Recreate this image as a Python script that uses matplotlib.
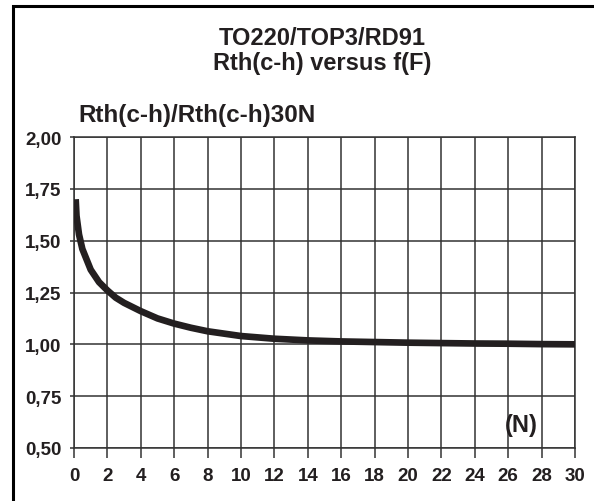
import matplotlib
matplotlib.use("Agg")
import matplotlib.pyplot as plt
from matplotlib.patches import Rectangle

plt.rcParams['font.family'] = ['Liberation Sans', 'DejaVu Sans']
plt.rcParams['font.weight'] = 'bold'

# force (N) vs ratio Rth(c-h)/Rth(c-h)30N
force = [0.1, 0.15, 0.3, 0.5, 1.0, 1.5, 2.0, 2.5, 3.0, 3.5, 4, 5, 6, 7, 8,
         10, 12, 14, 16, 18, 20, 22, 24, 26, 28, 30]
ratio = [1.70, 1.62, 1.53, 1.46, 1.36, 1.30, 1.26, 1.225, 1.20, 1.18, 1.16,
         1.125, 1.10, 1.08, 1.063, 1.04, 1.027, 1.019, 1.014, 1.011, 1.008,
         1.006, 1.004, 1.003, 1.001, 1.000]

x_ticks = list(range(0, 31, 2))
y_ticks = [0.50, 0.75, 1.00, 1.25, 1.50, 1.75, 2.00]
y_labels = ['0,50', '0,75', '1,00', '1,25', '1,50', '1,75', '2,00']

fig = plt.figure(figsize=(5.94, 5.02), dpi=100)
ax = fig.add_axes([74/594, 1-449/502, (575-74)/594, (449-138)/502])

grid_col = '#333333'
ax.plot(force, ratio, color='#231f20', lw=4.8, solid_capstyle='butt', zorder=3)

ax.set_xlim(0, 30)
ax.set_ylim(0.5, 2.0)
ax.set_xticks(x_ticks)
ax.set_xticklabels([str(v) for v in x_ticks])
ax.set_yticks(y_ticks)
ax.set_yticklabels(y_labels)
ax.grid(True, color=grid_col, lw=1.1)
for s in ax.spines.values():
    s.set_color(grid_col)
    s.set_linewidth(1.1)
ax.tick_params(axis='x', direction='out', length=7, width=1.1, color=grid_col,
               labelsize=13.5, pad=7)
ax.tick_params(axis='y', direction='out', length=3, width=1.1, color=grid_col,
               labelsize=13.5, pad=6)
for lab in ax.get_xticklabels() + ax.get_yticklabels():
    lab.set_fontweight('bold')
    lab.set_color('#231f20')

ax.text(26.8, 0.614, '(N)', fontsize=17, fontweight='bold', ha='center',
        va='center', color='#231f20')

fig.text(322/594, 1-45/502, 'TO220/TOP3/RD91', fontsize=17, fontweight='bold',
         ha='center', va='baseline', color='#231f20')
fig.text(322/594, 1-70/502, 'Rth(c-h) versus f(F)', fontsize=17,
         fontweight='bold', ha='center', va='baseline', color='#231f20')
fig.text(78/594, 1-122/502, 'Rth(c-h)/Rth(c-h)30N', fontsize=17.5,
         fontweight='bold', ha='left', va='baseline', color='#231f20')

# frame around the figure (only top and left are inside the picture)
fig.add_artist(Rectangle((13/594, -0.2), 1.2, 1.2 - 7/502,
                         transform=fig.transFigure, fill=False,
                         edgecolor='black', lw=2.2, clip_on=False))

fig.savefig('out.png', dpi=100)
